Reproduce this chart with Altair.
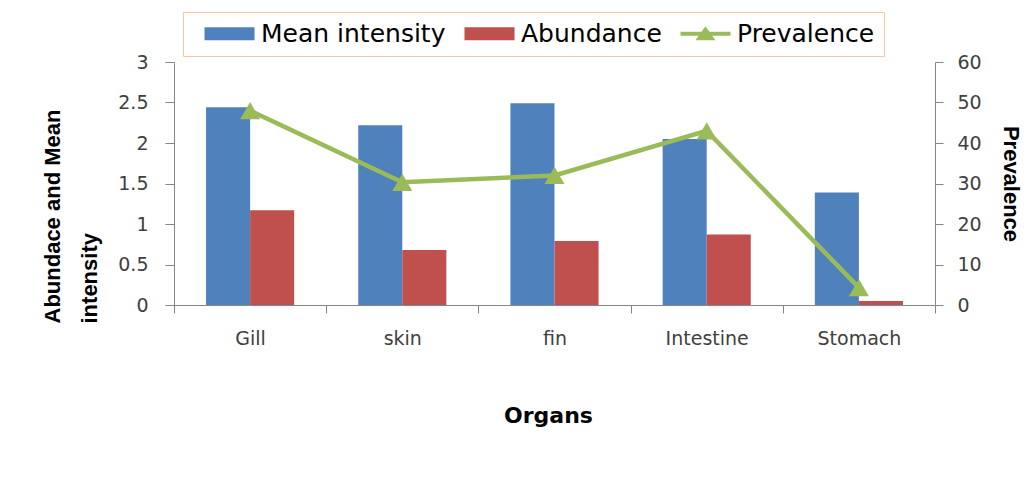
import altair as alt
import pandas as pd

organs = ["Gill", "skin", "fin", "Intestine", "Stomach"]
mean_intensity = [2.44, 2.22, 2.49, 2.05, 1.39]
abundance = [1.17, 0.68, 0.79, 0.87, 0.05]
prevalence = [48, 30.3, 32, 43, 4.3]
series_names = ["Mean intensity", "Abundance", "Prevalence"]
series_colors = ["#4F81BD", "#C0504D", "#9BBB59"]
left_ticks = [0, 0.5, 1, 1.5, 2, 2.5, 3]
right_ticks = [0, 10, 20, 30, 40, 50, 60]

rows = []
for i, o in enumerate(organs):
    rows.append({"organ": o, "series": "Mean intensity", "value": mean_intensity[i]})
    rows.append({"organ": o, "series": "Abundance", "value": abundance[i]})
bar_df = pd.DataFrame(rows)
prev_df = pd.DataFrame({"organ": organs, "series": ["Prevalence"] * len(organs), "prev": prevalence})

GRAY = "#868686"
LABEL = "#404040"
rect_sym = "M0,-0.54H4.17V0.54H0Z"
prev_sym = "M0,-0.17H4.17V0.17H0Z M2.08,-0.62L2.91,0.55L1.25,0.55Z"

legend = alt.Legend(
    title=None, orient="none", legendX=9, legendY=-50, direction="horizontal",
    strokeColor="#F7C7A0", fillColor="white", padding=9,
    labelFont="DejaVu Sans", labelFontSize=25, labelColor="black", labelLimit=400,
    labelOffset=44, columnPadding=6, symbolSize=576, symbolStrokeWidth=0,
    symbolOpacity=1,
)
color = alt.Color("series:N", scale=alt.Scale(domain=series_names, range=series_colors), legend=legend)
shape = alt.Shape("series:N", scale=alt.Scale(domain=series_names, range=[rect_sym, rect_sym, prev_sym]), legend=legend)

x_enc = alt.X(
    "organ:N", sort=organs,
    scale=alt.Scale(domain=organs, paddingInner=0, paddingOuter=0),
    axis=alt.Axis(
        title="Organs", titleFont="DejaVu Sans", titleFontSize=22, titleFontWeight="bold",
        titleColor="black", titleX=374, titleY=110, titleBaseline="middle", titleAlign="center",
        labelAngle=0, labelFont="DejaVu Sans", labelFontSize=19, labelColor=LABEL,
        labelPadding=16, tickSize=8, tickColor=GRAY, domainColor=GRAY, tickBand="extent",
    ),
)
y_left = alt.Y(
    "value:Q", scale=alt.Scale(domain=[0, 3]),
    axis=alt.Axis(
        values=left_ticks, labelExpr="datum.value + ''", grid=False,
        title=["Abundace and Mean", "intensity"], titleFont="Liberation Sans", titleFontSize=22,
        titleFontWeight="bold", titleColor="black", titleAngle=-90, titleAlign="left",
        titleBaseline="top", titleX=-132, titleY=261, titleLineHeight=37,
        labelFont="DejaVu Sans", labelFontSize=19, labelColor=LABEL, labelPadding=17,
        tickSize=9, tickColor=GRAY, domainColor=GRAY,
    ),
)
y_right = alt.Y(
    "prev:Q", scale=alt.Scale(domain=[0, 60]),
    axis=alt.Axis(
        orient="right", values=right_ticks, grid=False,
        title="Prevalence", titleFont="Liberation Sans", titleFontSize=22,
        titleFontWeight="bold", titleColor="black", titleAngle=90, titleAlign="center",
        titleBaseline="alphabetic", titleX=68, titleY=121.5,
        labelFont="DejaVu Sans", labelFontSize=19, labelColor=LABEL, labelPadding=14,
        tickSize=8, tickColor=GRAY, domainColor=GRAY,
    ),
)

bars = alt.Chart(bar_df).mark_bar().encode(
    x=x_enc,
    xOffset=alt.XOffset("series:N", sort=["Mean intensity", "Abundance"],
                        scale=alt.Scale(domain=["Mean intensity", "Abundance"], paddingInner=0, paddingOuter=0.727)),
    y=y_left,
    color=color,
)
dummy = alt.Chart(bar_df).transform_filter("datum.value < 0").mark_point(filled=True).encode(
    x=x_enc, y=y_left, color=color, shape=shape,
)
line = alt.Chart(prev_df).mark_line(strokeWidth=4.5).encode(
    x=x_enc, y=y_right, color=color,
)
points = alt.Chart(prev_df).mark_point(shape="triangle-up", filled=True, size=400, opacity=1, color="#9BBB59").encode(
    x=x_enc, y=y_right,
)

left = alt.layer(bars, dummy)
right = alt.layer(line, points)
chart = alt.layer(left, right).resolve_scale(y="independent").properties(
    width=761, height=243,
    padding={"left": 166, "top": 54, "right": 90, "bottom": 180},
    autosize="none",
).configure_view(stroke=None)

chart.save("out.html", embed_options={"renderer": "svg", "actions": False})
